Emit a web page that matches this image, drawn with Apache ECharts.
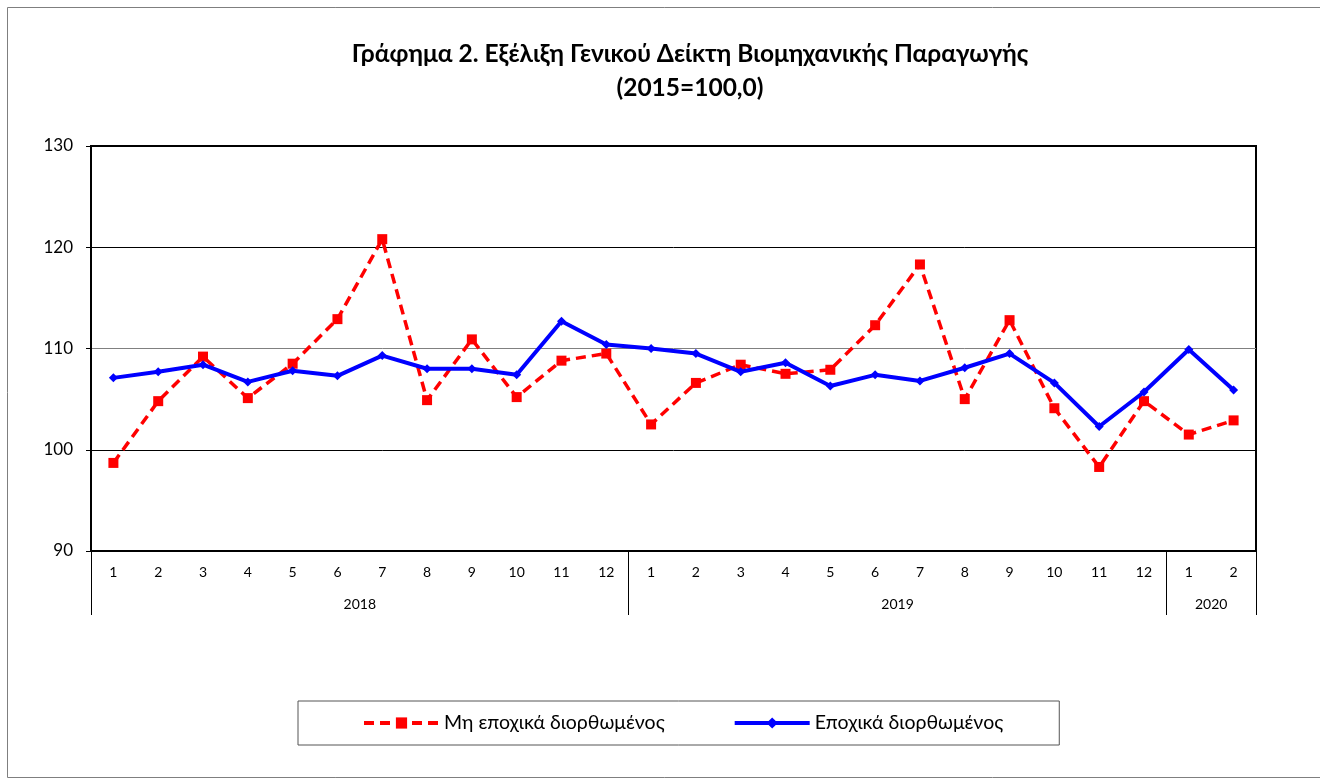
<!DOCTYPE html>
<html>
<head>
<meta charset="utf-8">
<script src="https://cdn.jsdelivr.net/npm/echarts@6/dist/echarts.min.js"></script>
<style>
  html, body { margin: 0; padding: 0; background: #fff; }
  #chart { width: 1320px; height: 783px; }
</style>
</head>
<body>
<div id="chart"></div>
<script>
const monthLabels = ["1","2","3","4","5","6","7","8","9","10","11","12",
  "1","2","3","4","5","6","7","8","9","10","11","12","1","2"];
const years = ["2018", "2019", "2020"];
const monthsPerYear = [12, 12, 2];

// Μη εποχικά διορθωμένος
const nonAdjusted = [98.7, 104.8, 109.2, 105.1, 108.5, 112.9, 120.8, 104.9, 110.9, 105.2, 108.8, 109.5,
  102.5, 106.6, 108.4, 107.5, 107.9, 112.3, 118.3, 105.0, 112.8, 104.1, 98.3, 104.8,
  101.5, 102.9];
// Εποχικά διορθωμένος
const adjusted = [107.1, 107.7, 108.4, 106.7, 107.8, 107.3, 109.3, 108.0, 108.0, 107.4, 112.7, 110.4,
  110.0, 109.5, 107.7, 108.6, 106.3, 107.4, 106.8, 108.1, 109.5, 106.6, 102.3, 105.7,
  109.9, 105.9];

const FONT = "Lato, 'Noto Sans', sans-serif";

// year group boundaries and centres on a 0..N scale
const yearBounds = [0];
const yearCenters = [];
monthsPerYear.forEach((n) => {
  const start = yearBounds[yearBounds.length - 1];
  yearCenters.push(start + n / 2);
  yearBounds.push(start + n);
});

const chart = echarts.init(document.getElementById("chart"));

chart.setOption({
  animation: false,
  textStyle: { fontFamily: FONT },
  title: {
    text: "Γράφημα 2. Εξέλιξη Γενικού Δείκτη Βιομηχανικής Παραγωγής\n(2015=100,0)",
    left: 685,
    textAlign: "center",
    top: 32,
    textStyle: { fontSize: 24.5, fontWeight: "bold", color: "#000", lineHeight: 34, fontFamily: FONT },
  },
  graphic: [
    {
      type: "rect",
      shape: { x: 7.5, y: 7.5, width: 1330, height: 770 },
      style: { fill: "none", stroke: "#7f7f7f", lineWidth: 1 },
      silent: true,
    },
  ],
  legend: {
    bottom: 38,
    left: 298,
    padding: [12, 56, 12, 64],
    borderColor: "#555",
    borderWidth: 1,
    itemWidth: 75,
    itemHeight: 14,
    itemGap: 68,
    textStyle: { fontSize: 19.5, color: "#000", fontFamily: FONT },
    data: [
      { name: "Μη εποχικά διορθωμένος", lineStyle: { width: 4 } },
      { name: "Εποχικά διορθωμένος", lineStyle: { width: 4 } },
    ],
  },
  grid: {
    left: 91,
    right: 64,
    top: 146,
    bottom: 232,
    show: true,
    borderColor: "#000",
    borderWidth: 2,
  },
  xAxis: [
    {
      type: "category",
      data: monthLabels,
      boundaryGap: true,
      axisLine: { lineStyle: { color: "#000", width: 2 } },
      axisTick: { interval: 0, length: 32, lineStyle: { color: "#000", width: 1 } },
      axisLabel: { interval: 0, margin: 14, fontSize: 14, color: "#000" },
      splitLine: { show: false },
    },
    {
      type: "value",
      min: 0,
      max: monthLabels.length,
      position: "bottom",
      axisLine: { show: false },
      splitLine: { show: false },
      axisTick: { show: true, customValues: yearBounds, length: 64, lineStyle: { color: "#000", width: 1 } },
      axisLabel: {
        customValues: yearCenters,
        margin: 46,
        fontSize: 14,
        color: "#000",
        formatter: (v) => years[yearCenters.indexOf(v)] || "",
      },
    },
  ],
  yAxis: {
    type: "value",
    min: 90,
    max: 130,
    interval: 10,
    axisLine: { show: true, lineStyle: { color: "#000", width: 2 } },
    axisTick: { show: true, length: 5, lineStyle: { color: "#000" } },
    axisLabel: { fontSize: 17, color: "#000", margin: 18 },
    splitLine: { lineStyle: { color: ["#000", "#000", "#808080", "#000", "#000"], width: 1 } },
  },
  series: [
    {
      name: "Μη εποχικά διορθωμένος",
      type: "line",
      data: nonAdjusted,
      symbol: "rect",
      symbolSize: 10,
      lineStyle: { color: "#ff0000", width: 3.5, type: [10, 6] },
      itemStyle: { color: "#ff0000" },
      z: 2,
    },
    {
      name: "Εποχικά διορθωμένος",
      type: "line",
      data: adjusted,
      symbol: "diamond",
      symbolSize: 9,
      lineStyle: { color: "#0000ff", width: 4 },
      itemStyle: { color: "#0000ff" },
      z: 3,
    },
  ],
});
</script>
</body>
</html>
